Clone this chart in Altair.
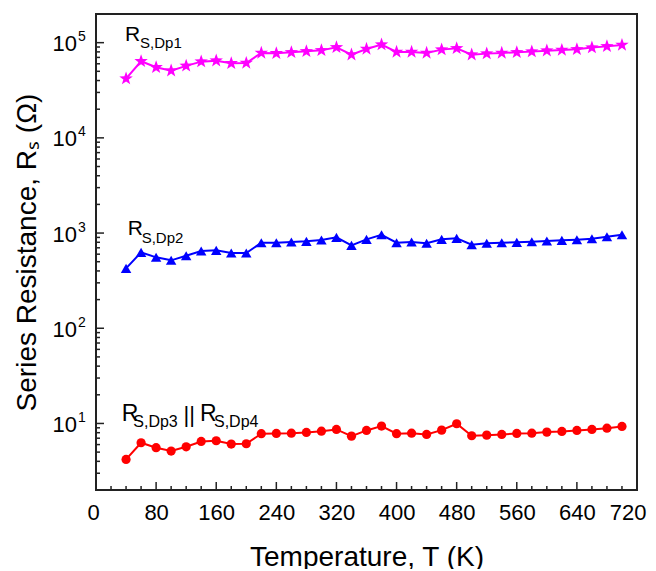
import altair as alt
import pandas as pd

# ---- data ----
temps = [40, 60, 80, 100, 120, 140, 160, 180, 200, 220, 240, 260, 280, 300, 320, 340, 360,
         380, 400, 420, 440, 460, 480, 500, 520, 540, 560, 580, 600, 620, 640, 660, 680, 700]

r_dp1 = [41900, 63700, 55100, 50800, 57000, 63200, 64700, 60700, 61200, 78000, 77300, 79100,
         81100, 83000, 89300, 74800, 85900, 95300, 79900, 79900, 78000, 84500, 87100, 74800,
         76700, 78000, 79100, 80500, 82400, 83800, 85100, 88700, 91400, 94600]

r_dp2 = [426, 627, 556, 517, 578, 647, 658, 617, 617, 791, 791, 805, 818, 845, 901, 743, 859,
         960, 791, 805, 780, 859, 880, 754, 780, 791, 799, 811, 824, 838, 851, 871, 914, 960]

r_dp34 = [4.19, 6.27, 5.56, 5.13, 5.69, 6.47, 6.58, 6.07, 6.12, 7.80, 7.85, 7.91, 8.05, 8.30,
          8.65, 7.36, 8.45, 9.38, 7.80, 7.91, 7.67, 8.51, 9.93, 7.43, 7.54, 7.67, 7.85, 7.91,
          8.11, 8.24, 8.45, 8.65, 8.93, 9.31]

STAR = ("M0,-1 L0.235,-0.324 L0.951,-0.309 L0.38,0.124 L0.588,0.809 L0,0.4 "
        "L-0.588,0.809 L-0.38,0.124 L-0.951,-0.309 L-0.235,-0.324 Z")

series_names = ["Dp1", "Dp2", "Dp34"]
series_colors = ["#FF00FF", "#0000FF", "#FF0000"]
series_shapes = [STAR, "triangle-up", "circle"]
series_sizes = [200, 110, 85]

x_label_values = [0, 80, 160, 240, 320, 400, 480, 560, 640, 720]
x_minor_ticks = [20, 40, 60, 100, 120, 140, 180, 200, 220, 260, 280, 300, 340, 360, 380,
                 420, 440, 460, 500, 520, 540, 580, 600, 620, 660, 680, 700]
x_major_ticks = [80, 160, 240, 320, 400, 480, 560, 640]

y_decades = [10, 100, 1000, 10000, 100000]
y_exponents = ["1", "2", "3", "4", "5"]
y_minor_ticks = [3, 4, 5, 6, 7, 8, 9] + [k * 10 ** d for d in range(1, 5) for k in range(2, 10)]

# annotations (text, T position, R position, font size, dy)
ann_text = ["R", "S,Dp1", "R", "S,Dp2", "R", "S,Dp3", "||", "R", "S,Dp4"]
ann_T = [38.6, 58.6, 42.2, 60.8, 34.2, 49.6, 116.5, 138.4, 157.0]
ann_R = [1.05e5, 1.05e5, 954, 954, 10.7, 10.7, 10.7, 10.7, 10.7]
ann_size = [21, 15, 21, 15, 23, 16, 22, 23, 16]
ann_dy = [0, 7.6, 0, 7.7, 0, 6, 1, 0, 6]

FONT = "Liberation Sans"
W, H = 541, 476

xs = alt.Scale(domain=[0, 720], nice=False, zero=False)
ys = alt.Scale(type="log", domain=[2, 200000], nice=False)

XAXIS = alt.Axis(
    values=x_label_values, labels=True, ticks=False, domain=False, grid=False,
    labelFont=FONT, labelFontSize=22, labelColor="black", labelPadding=12,
    labelFlush=True, labelFlushOffset=9, labelOverlap=False, labelBound=False,
    title="Temperature, T (K)", titleFont=FONT, titleFontSize=28,
    titleFontWeight="normal", titleColor="black", titleBaseline="alphabetic",
    titleX=W / 2, titleY=75, titleAlign="center")
YAXIS = alt.Axis(
    labels=False, ticks=False, domain=False, grid=False,
    title="Series Resistance, Rₛ (Ω)", titleFont=FONT, titleFontSize=28,
    titleFontWeight="normal", titleColor="black", titleBaseline="alphabetic",
    titleX=-61, titleY=H / 2, titleAlign="center", titleAngle=270)


def X():
    return alt.X("T:Q", scale=xs, axis=XAXIS)


def Y():
    return alt.Y("R:Q", scale=ys, axis=YAXIS)


# ---- series layers ----
series_layers = []
for idx, vals in enumerate([r_dp1, r_dp2, r_dp34]):
    sdf = pd.DataFrame({"T": temps, "R": vals})
    line = alt.Chart(sdf).mark_line(strokeWidth=2, color=series_colors[idx]).encode(x=X(), y=Y())
    pts = alt.Chart(sdf).mark_point(filled=True, opacity=1, shape=series_shapes[idx],
                                     size=series_sizes[idx], color=series_colors[idx]).encode(
        x=X(), y=Y())
    series_layers += [line, pts]

tick_color = "#222222"
xmaj = alt.Chart(pd.DataFrame({"T": x_major_ticks})).mark_rule(color=tick_color, strokeWidth=1.5).encode(
    x=X(), y=alt.value(H), y2=alt.value(H - 8))
xmin = alt.Chart(pd.DataFrame({"T": x_minor_ticks})).mark_rule(color=tick_color, strokeWidth=1.5).encode(
    x=X(), y=alt.value(H), y2=alt.value(H - 4))
ymaj = alt.Chart(pd.DataFrame({"R": y_decades})).mark_rule(color=tick_color, strokeWidth=1.5).encode(
    y=Y(), x=alt.value(0), x2=alt.value(8))
ymin = alt.Chart(pd.DataFrame({"R": y_minor_ticks})).mark_rule(color=tick_color, strokeWidth=1.5).encode(
    y=Y(), x=alt.value(0), x2=alt.value(4))

ylab_df = pd.DataFrame({"R": y_decades, "exp": y_exponents, "base": ["10"] * 5})
ylab10 = alt.Chart(ylab_df).mark_text(font=FONT, fontSize=22, align="right",
                                      baseline="alphabetic", dy=8.5, color="black").encode(
    y=Y(), x=alt.value(-19), text="base:N")
ylabexp = alt.Chart(ylab_df).mark_text(font=FONT, fontSize=14, align="left",
                                       baseline="alphabetic", dy=-1.5, color="black").encode(
    y=Y(), x=alt.value(-18), text="exp:N")

ann_layers = []
for i in range(len(ann_text)):
    adf = pd.DataFrame({"text": [ann_text[i]], "T": [ann_T[i]], "R": [ann_R[i]]})
    ann_layers.append(
        alt.Chart(adf).mark_text(
            font=FONT, fontSize=ann_size[i], dy=ann_dy[i], align="left",
            baseline="alphabetic", color="black").encode(
            x=X(), y=Y(), text="text:N"))

chart = alt.layer(*series_layers, xmaj, xmin, ymaj, ymin, ylab10, ylabexp, *ann_layers).properties(
    width=W, height=H,
    autosize=alt.AutoSizeParams(type="none"),
    padding={"left": 88, "top": 6, "right": 11, "bottom": 79},
    background="white",
).configure_view(
    stroke="#222222", strokeWidth=2
)

chart.save("out.html", embed_options={"renderer": "svg", "actions": False})
